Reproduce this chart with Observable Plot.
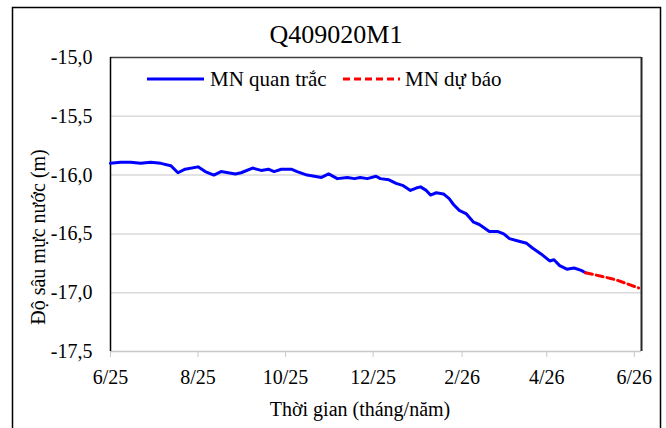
<!DOCTYPE html>
<html>
<head>
<meta charset="utf-8">
<script src="https://cdn.jsdelivr.net/npm/d3@7"></script>
<script src="https://cdn.jsdelivr.net/npm/@observablehq/plot@0.6"></script>
<style>
  html, body { margin: 0; padding: 0; background: #fff; }
  #wrap { position: relative; width: 666px; height: 428px; }
  #chart svg { display: block; }
  #title { position: absolute; left: 0; width: 672px; top: 20px; text-align: center;
           font-family: 'Liberation Serif'; font-size: 26px; line-height: 30px; color: #000; }
</style>
</head>
<body>
<div id="wrap">
  <div id="chart"></div>
  <div id="title"></div>
</div>
<script>
const chartTitle = "Q409020M1";
const seriesNames = ["MN quan trắc", "MN dự báo"];
const xAxisLabel = "Thời gian (tháng/năm)";
const yAxisLabel = "Độ sâu mực nước (m)";

const observedDates = [
  "2025-06-01","2025-06-08","2025-06-15","2025-06-22","2025-06-29","2025-07-06","2025-07-13","2025-07-18",
  "2025-07-23","2025-08-01","2025-08-06","2025-08-12","2025-08-17","2025-08-27","2025-08-31","2025-09-08",
  "2025-09-14","2025-09-19","2025-09-23","2025-09-28","2025-10-05","2025-10-09","2025-10-16","2025-10-26",
  "2025-10-31","2025-11-06","2025-11-13","2025-11-18","2025-11-22","2025-11-27","2025-12-03","2025-12-06",
  "2025-12-12","2025-12-17","2025-12-22","2025-12-27","2025-12-31","2026-01-03","2026-01-07","2026-01-10",
  "2026-01-14","2026-01-19","2026-01-23","2026-01-26","2026-01-30","2026-02-04","2026-02-09","2026-02-13",
  "2026-02-20","2026-02-26","2026-03-02","2026-03-06","2026-03-12","2026-03-18","2026-03-22","2026-03-28",
  "2026-04-03","2026-04-06","2026-04-10","2026-04-15","2026-04-20","2026-04-25","2026-04-28"
];
const observedValues = [
  -15.90,-15.89,-15.89,-15.90,-15.89,-15.90,-15.92,-15.98,
  -15.95,-15.93,-15.97,-16.00,-15.97,-15.99,-15.98,-15.94,
  -15.96,-15.95,-15.97,-15.95,-15.95,-15.97,-16.00,-16.02,
  -15.99,-16.03,-16.02,-16.03,-16.02,-16.03,-16.01,-16.03,
  -16.04,-16.07,-16.09,-16.13,-16.11,-16.10,-16.13,-16.17,
  -16.15,-16.16,-16.20,-16.25,-16.30,-16.33,-16.40,-16.42,
  -16.48,-16.48,-16.50,-16.54,-16.56,-16.58,-16.62,-16.67,
  -16.73,-16.72,-16.77,-16.80,-16.79,-16.81,-16.83
];
const forecastDates = ["2026-04-28","2026-05-09","2026-05-19","2026-05-26","2026-06-04"];
const forecastValues = [-16.83,-16.86,-16.89,-16.92,-16.96];

const xTickDates = ["2025-06-01","2025-08-01","2025-10-01","2025-12-01","2026-02-01","2026-04-01","2026-06-01"];
const xTickLabels = ["6/25","8/25","10/25","12/25","2/26","4/26","6/26"];
const xDomain = ["2025-06-01","2026-06-06"];
const yTicks = [-15.0,-15.5,-16.0,-16.5,-17.0,-17.5];
const yDomain = [-17.5,-15.0];

const parse = d3.utcParse("%Y-%m-%d");
const observed = observedDates.map((d, i) => ({date: parse(d), v: observedValues[i]}));
const forecast = forecastDates.map((d, i) => ({date: parse(d), v: forecastValues[i]}));
const xTicks = xTickDates.map(parse);
const xLabelMap = new Map(xTicks.map((d, i) => [+d, xTickLabels[i]]));
const fmtY = d => d.toFixed(1).replace(".", ",");
const xMin = parse(xDomain[0]), xMax = parse(xDomain[1]);

const FONT = "Liberation Serif";
const plot = Plot.plot({
  width: 666,
  height: 428,
  marginLeft: 110,
  marginRight: 25,
  marginTop: 57,
  marginBottom: 77,
  style: {fontFamily: FONT, fontSize: "20px"},
  x: {type: "utc", domain: [xMin, xMax], label: null},
  y: {domain: yDomain, label: null},
  marks: [
    Plot.gridY(yTicks.slice(1, -1), {stroke: "#d9d9d9", strokeOpacity: 1, strokeWidth: 1.5}),
    Plot.ruleY([yDomain[0]], {stroke: "#c8c8c8", strokeWidth: 1.5}),
    Plot.ruleY([yDomain[1]], {stroke: "#404040", strokeWidth: 1.5}),
    Plot.ruleX([xMax], {stroke: "#262626", strokeWidth: 2}),
    Plot.ruleX([xMin], {stroke: "#000", strokeWidth: 1.5}),
    Plot.axisX({ticks: xTicks, tickFormat: d => xLabelMap.get(+d), tickSize: 6, tickPadding: 12,
      stroke: "#c8c8c8", fill: "#000", fontSize: 20}),
    Plot.axisY({ticks: yTicks, tickFormat: fmtY, tickSize: 0, tickPadding: 18, fill: "#000", fontSize: 20}),
    Plot.lineY(observed, {x: "date", y: "v", stroke: "#0000ff", strokeWidth: 3}),
    Plot.lineY(forecast, {x: "date", y: "v", stroke: "#ff0000", strokeWidth: 3, strokeDasharray: "7,4"})
  ]
});

const svg = d3.select(plot);
svg.selectAll("text").attr("font-family", FONT);
// outer chart-area border
svg.append("rect").attr("x", 12.5).attr("y", 7.5).attr("width", 648).attr("height", 440)
  .attr("fill", "none").attr("stroke", "#000").attr("stroke-width", 1.5);
// legend
const lg = svg.append("g").attr("fill", "#000");
lg.append("line").attr("x1", 147).attr("x2", 204).attr("y1", 79).attr("y2", 79)
  .attr("stroke", "#0000ff").attr("stroke-width", 3);
lg.append("text").attr("x", 210).attr("y", 86).attr("text-anchor", "start")
  .attr("font-family", FONT).attr("font-size", 21).text(seriesNames[0]);
lg.append("line").attr("x1", 343).attr("x2", 400).attr("y1", 79).attr("y2", 79)
  .attr("stroke", "#ff0000").attr("stroke-width", 3).attr("stroke-dasharray", "7,4");
lg.append("text").attr("x", 405).attr("y", 86).attr("text-anchor", "start")
  .attr("font-family", FONT).attr("font-size", 21).text(seriesNames[1]);
// axis titles
svg.append("text").attr("x", 360).attr("y", 416).attr("text-anchor", "middle")
  .attr("font-family", FONT).attr("font-size", 20).attr("fill", "#000").text(xAxisLabel);
svg.append("text").attr("transform", "translate(45,237) rotate(-90)").attr("text-anchor", "middle")
  .attr("font-family", FONT).attr("font-size", 20).attr("fill", "#000").text(yAxisLabel);

document.getElementById("chart").appendChild(plot);
document.getElementById("title").textContent = chartTitle;
</script>
</body>
</html>
